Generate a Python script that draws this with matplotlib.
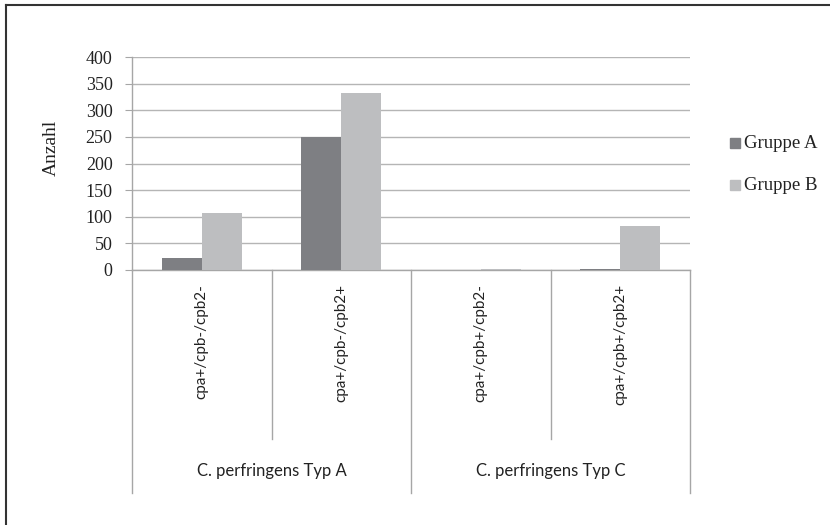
import matplotlib
matplotlib.use("Agg")
import matplotlib.pyplot as plt
from matplotlib.lines import Line2D
from matplotlib.patches import Rectangle

subcats = ["cpa+/cpb-/cpb2-", "cpa+/cpb-/cpb2+", "cpa+/cpb+/cpb2-", "cpa+/cpb+/cpb2+"]
groups = ["C. perfringens Typ A", "C. perfringens Typ C"]
series = ["Gruppe A", "Gruppe B"]
gruppe_a = [23, 250, 0, 2]
gruppe_b = [107, 333, 2, 82]
yticks = [0, 50, 100, 150, 200, 250, 300, 350, 400]

W, H = 830, 525
serif = ["Liberation Serif", "DejaVu Serif"]
sans = ["Lato", "Open Sans", "DejaVu Sans"]
dark = "#7e7f83"
light = "#bdbec0"
axcol = "#a6a6a6"
txtcol = "#222222"

fig = plt.figure(figsize=(W / 100, H / 100), dpi=100)
x0, x1, y0, y1 = 132, 690, 270, 57
ax = fig.add_axes([x0 / W, 1 - y0 / H, (x1 - x0) / W, (y0 - y1) / H])

pos = [i + 0.5 for i in range(len(subcats))]
bw = 0.287
ax.bar([p - bw / 2 for p in pos], gruppe_a, width=bw, color=dark, zorder=3)
ax.bar([p + bw / 2 for p in pos], gruppe_b, width=bw, color=light, zorder=3)

ax.set_xlim(0, len(subcats))
ax.set_ylim(0, 400)
ax.set_yticks(yticks)
ax.set_yticklabels([str(v) for v in yticks], family=serif, fontsize=13, color=txtcol)
ax.set_xticks([])
ax.tick_params(axis="y", length=5, color=axcol, pad=9)
ax.grid(axis="y", color="#b5b5b5", linewidth=1, zorder=0)
for s in ["top", "right"]:
    ax.spines[s].set_visible(False)
for s in ["left", "bottom"]:
    ax.spines[s].set_color(axcol)
    ax.spines[s].set_linewidth(1)
fig.text(51 / W, 1 - 148 / H, "Anzahl", rotation=90, ha="center", va="center",
         family=serif, fontsize=14, color=txtcol)

# category separators below the axis
h = y0 - y1
trans = ax.get_xaxis_transform()
inner_end = -(439 - y0) / h
outer_end = -(493 - y0) / h
for x in range(len(subcats) + 1):
    end = outer_end if x % 2 == 0 else inner_end
    ax.add_line(Line2D([x, x], [0, end], transform=trans, color=axcol,
                       linewidth=1, clip_on=False))

for p, lab in zip(pos, subcats):
    ax.text(p, -(284 - y0) / h, lab, transform=trans, rotation=90,
            ha="center", va="top", family=sans, fontsize=11, color=txtcol)
for i, g in enumerate(groups):
    ax.text(2 * i + 1, -(471 - y0) / h, g, transform=trans, ha="center",
            va="center", family=sans, fontsize=12, color=txtcol)

# legend
for name, col, ly in zip(series, [dark, light], [143, 185]):
    fig.add_artist(Rectangle((730 / W, 1 - (ly + 5) / H), 10 / W, 10 / H,
                             transform=fig.transFigure, color=col))
    fig.text(744 / W, 1 - ly / H, name, ha="left", va="center",
             family=serif, fontsize=13.5, color=txtcol)

# outer frame (top and left edges)
fig.add_artist(Line2D([6 / W, 1], [1 - 5 / H, 1 - 5 / H], color="#333333", linewidth=1.5))
fig.add_artist(Line2D([6 / W, 6 / W], [0, 1 - 5 / H], color="#333333", linewidth=1.5))

fig.savefig("out.png", dpi=100, facecolor="white")
